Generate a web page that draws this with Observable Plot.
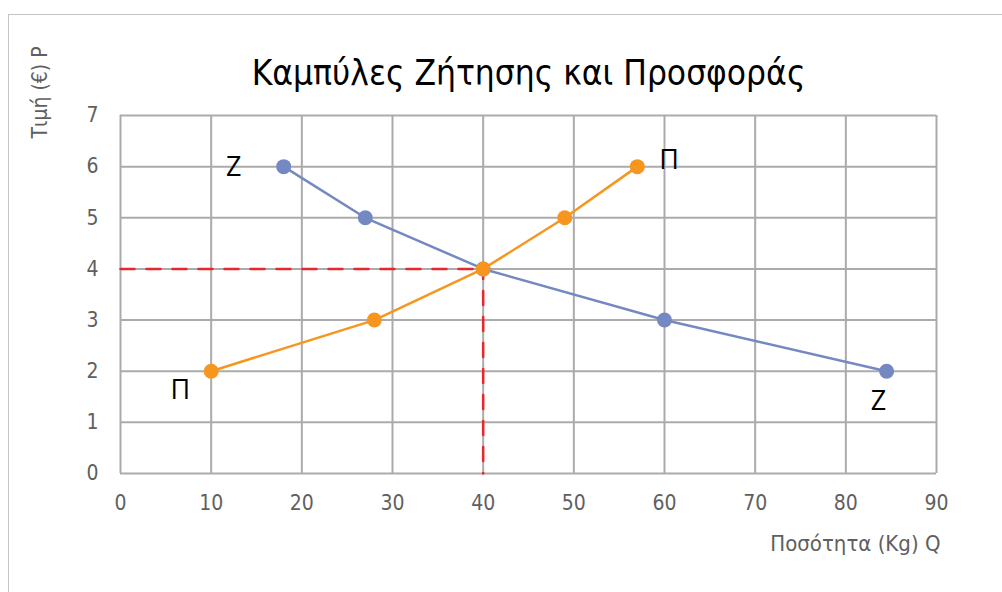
<!DOCTYPE html>
<html>
<head>
<meta charset="utf-8">
<script src="https://cdn.jsdelivr.net/npm/d3@7"></script>
<script src="https://cdn.jsdelivr.net/npm/@observablehq/plot@0.6"></script>
<style>
  html, body { margin: 0; padding: 0; background: #fff; overflow: hidden; width: 1002px; height: 592px; }
  #wrap { position: relative; width: 1002px; height: 592px; }
  #frame { position: absolute; left: 8px; top: 14px; width: 1100px; height: 700px; border: 1.5px solid #c4c4c4; box-sizing: border-box; }
  #chart { position: absolute; left: 0; top: 0; }
</style>
</head>
<body>
<div id="wrap"><div id="frame"></div><div id="chart"></div></div>
<script>
const title = "Καμπύλες Ζήτησης και Προσφοράς";
const xLabel = "Ποσότητα (Kg) Q";
const yLabel = "Τιμή (€) P";

// Demand (Z)
const demandQ = [18, 27, 40, 60, 84.5];
const demandP = [6, 5, 4, 3, 2];
// Supply (Π)
const supplyQ = [10, 28, 40, 49, 57];
const supplyP = [2, 3, 4, 5, 6];
// Equilibrium
const eqQ = 40, eqP = 4;

const xTicks = [0, 10, 20, 30, 40, 50, 60, 70, 80, 90];
const yTicks = [0, 1, 2, 3, 4, 5, 6, 7];

// curve letter labels
const labelText = ["Z", "Π", "Π", "Z"];
const labelQ = [12.5, 60.5, 6.6, 83.6];
const labelP = [5.98, 6.12, 1.62, 1.42];

const demand = demandQ.map((q, i) => ({q, p: demandP[i]}));
const supply = supplyQ.map((q, i) => ({q, p: supplyP[i]}));
const labels = labelText.map((t, i) => ({t, q: labelQ[i], p: labelP[i]}));
const dashH = [{q: 0, p: eqP}, {q: eqQ, p: eqP}];
const dashV = [{q: eqQ, p: eqP}, {q: eqQ, p: 0}];

const blue = "#7489c2";
const orange = "#f7961e";
const grid = "#ababab";
const tickCol = "#5f5f5f";
const narrow = "'Liberation Sans Narrow', 'DejaVu Sans Condensed', sans-serif";
const font = "'Open Sans', sans-serif";

const chart = Plot.plot({
  width: 1002,
  height: 592,
  marginLeft: 120,
  marginRight: 66,
  marginTop: 115,
  marginBottom: 119,
  style: {fontFamily: narrow, background: "transparent", overflow: "visible"},
  x: {domain: [0, 90], ticks: xTicks, label: null},
  y: {domain: [0, 7], ticks: yTicks, label: null},
  marks: [
    Plot.gridX(xTicks, {stroke: grid, strokeOpacity: 1, strokeWidth: 2}),
    Plot.gridY(yTicks, {stroke: grid, strokeOpacity: 1, strokeWidth: 2}),
    Plot.axisX(xTicks, {tickSize: 0, tickPadding: 22, fontSize: 21, fill: tickCol, fontFamily: narrow, tickFormat: d3.format("d")}),
    Plot.axisY(yTicks, {tickSize: 0, tickPadding: 22, fontSize: 21, fill: tickCol, fontFamily: narrow, tickFormat: d3.format("d")}),
    Plot.line(dashH, {x: "q", y: "p", stroke: "#e8262d", strokeWidth: 2.5, strokeDasharray: "14,12"}),
    Plot.line(dashV, {x: "q", y: "p", stroke: "#e8262d", strokeWidth: 2.5, strokeDasharray: "14,12", strokeDashoffset: 4}),
    Plot.line(demand, {x: "q", y: "p", stroke: blue, strokeWidth: 2.5}),
    Plot.line(supply, {x: "q", y: "p", stroke: orange, strokeWidth: 2.5}),
    Plot.dot(demand, {x: "q", y: "p", r: 7.5, fill: blue, stroke: "none"}),
    Plot.dot(supply, {x: "q", y: "p", r: 7.5, fill: orange, stroke: "none"}),
    Plot.text(labels, {x: "q", y: "p", text: "t", fontSize: 27, fill: "#000", fontFamily: font}),
    Plot.text([title], {frameAnchor: "top", dy: -55, fontSize: 35, fill: "#000", fontFamily: narrow}),
    Plot.text([xLabel], {frameAnchor: "bottom-right", textAnchor: "end", dx: 4, dy: 77, fontSize: 22, fill: tickCol, fontFamily: narrow}),
    Plot.text([yLabel], {x: () => 0, y: () => 7, dx: -80, dy: -23, rotate: -90, fontSize: 21, fill: tickCol, fontFamily: narrow})
  ]
});
document.getElementById("chart").appendChild(chart);
</script>
</body>
</html>
